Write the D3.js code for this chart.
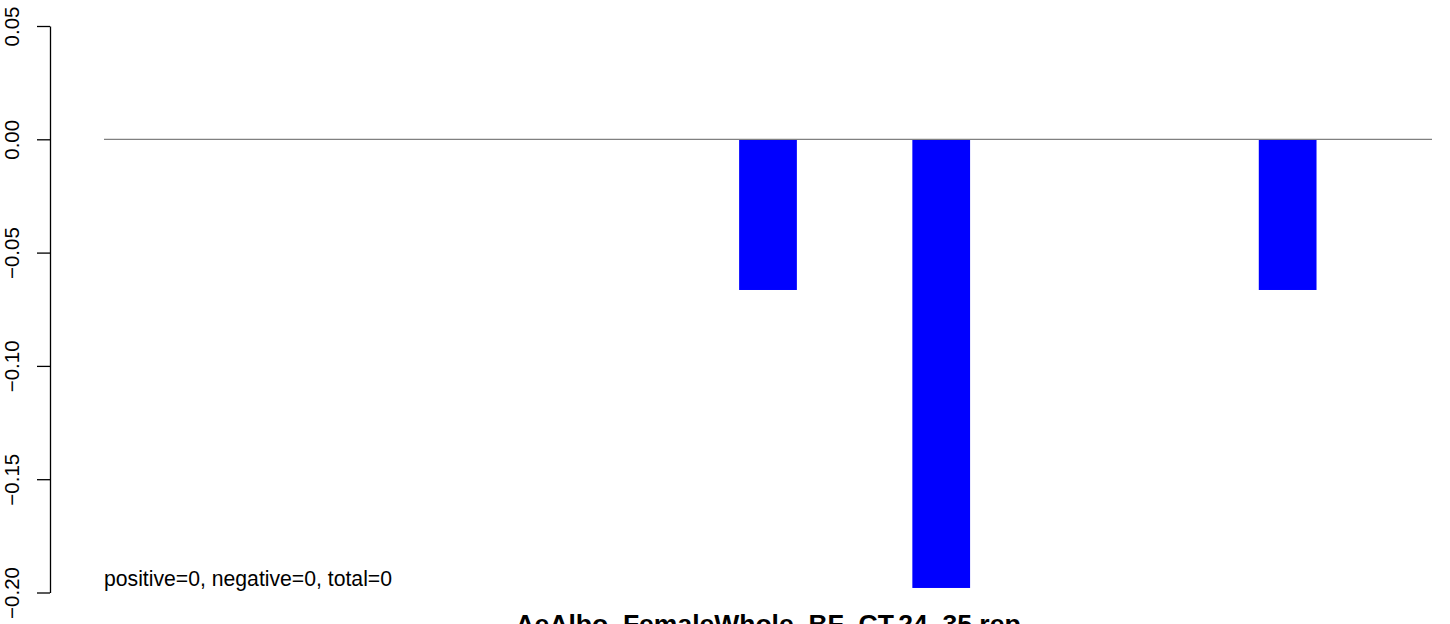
<!DOCTYPE html>
<html>
<head>
<meta charset="utf-8">
<script src="https://cdn.jsdelivr.net/npm/d3@7"></script>
<style>
  html, body { margin: 0; padding: 0; background: #fff; }
  svg { display: block; font-family: "Liberation Sans", Arial, Helvetica, sans-serif; }
</style>
</head>
<body>
<svg id="chart" width="1450" height="624"></svg>
<script>
const categories = ["1","2","3","4","5","6","7","8","9","10","11","12","13","14","15"];
const values = [0, 0, 0, 0, 0, 0, 0, -0.0665, 0, -0.198, 0, 0, 0, -0.0665, 0];
const yTicks = [-0.20, -0.15, -0.10, -0.05, 0.00, 0.05];
const title = "AeAlbo_FemaleWhole_BF_CT.24_35.rep";
const note = "positive=0, negative=0, total=0";

const svg = d3.select("#chart");

const x = d3.scaleBand()
  .domain(categories)
  .range([104, 1432])
  .paddingInner(1/3)
  .paddingOuter(1/3);

const y = d3.scaleLinear()
  .domain([-0.20, 0.05])
  .range([592.5, 26]);

// bars
svg.append("g")
  .selectAll("rect")
  .data(categories.map((c, i) => ({ c, v: values[i] })))
  .join("rect")
  .attr("x", d => x(d.c))
  .attr("width", x.bandwidth())
  .attr("y", d => Math.min(y(0), y(d.v)))
  .attr("height", d => Math.abs(y(d.v) - y(0)))
  .attr("fill", "#0000FF");

// zero line
svg.append("line")
  .attr("x1", x.range()[0])
  .attr("x2", x.range()[1])
  .attr("y1", y(0))
  .attr("y2", y(0))
  .attr("stroke", "#808080")
  .attr("stroke-width", 1.2);

// y axis
const axis = d3.axisLeft(y)
  .tickValues(yTicks)
  .tickSize(13)
  .tickSizeOuter(0)
  .tickFormat(d3.format(".2f"));

const gy = svg.append("g")
  .attr("transform", "translate(50,0)")
  .call(axis);

gy.select(".domain").attr("stroke", "#000").attr("stroke-width", 1.3);
gy.selectAll(".tick line").attr("stroke", "#000").attr("stroke-width", 1.3);
gy.selectAll(".tick text")
  .attr("transform", "rotate(-90)")
  .attr("x", 0)
  .attr("y", -31)
  .attr("dy", 0)
  .attr("text-anchor", "middle")
  .attr("fill", "#000")
  .style("font-size", "20.5px")
  .style("font-family", "'Liberation Sans', Arial, sans-serif");

// note text
svg.append("text")
  .attr("x", 104)
  .attr("y", 586)
  .attr("font-size", 21.2)
  .attr("fill", "#000")
  .text(note);

// title (cut off at bottom, as in the reference)
svg.append("text")
  .attr("x", (x.range()[0] + x.range()[1]) / 2)
  .attr("y", 633)
  .attr("text-anchor", "middle")
  .attr("font-size", 26.5)
  .attr("font-weight", "bold")
  .attr("fill", "#000")
  .text(title);
</script>
</body>
</html>
